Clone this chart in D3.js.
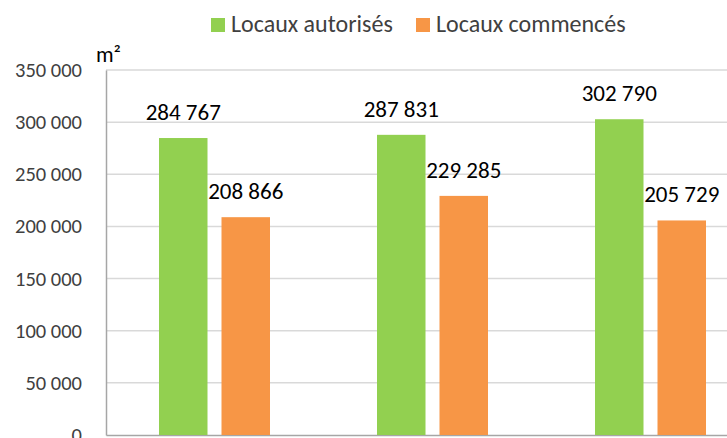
<!DOCTYPE html>
<html><head><meta charset="utf-8">
<script src="https://cdn.jsdelivr.net/npm/d3@7"></script>
<style>
html,body{margin:0;padding:0;background:#fff;overflow:hidden;}
svg{display:block;}
</style></head>
<body>
<svg id="chart" width="727" height="438"></svg>
<script>
const categories = ["Période 1", "Période 2", "Période 3"];
const seriesNames = ["Locaux autorisés", "Locaux commencés"];
const autorises = [284767, 287831, 302790];
const commences = [208866, 229285, 205729];
const yTicks = [0, 50000, 100000, 150000, 200000, 250000, 300000, 350000];
const colors = ["#92d050", "#f79646"];

(function () {
const font = "Carlito, Calibri, 'Liberation Sans Narrow', 'Open Sans', sans-serif";
const svg = d3.select("#chart");
const mLeft = 106, mBottom = 435, mTop = 70;

const y = d3.scaleLinear().domain([0, 350000]).range([mBottom, mTop]);
const x0 = d3.scaleBand().domain(categories).range([mLeft, mLeft + 3 * 218]).paddingInner(0).paddingOuter(0);
const x1 = d3.scaleBand().domain(seriesNames).range([0, 111]).paddingInner(14 / 62.5);
const fmt = v => d3.format(",")(v).replace(/,/g, " ");

// gridlines
svg.append("g").selectAll("line").data(yTicks.filter(t => t > 0)).join("line")
  .attr("x1", mLeft).attr("x2", 727)
  .attr("y1", d => y(d)).attr("y2", d => y(d))
  .attr("stroke", "#d9d9d9").attr("stroke-width", 1.5);

// y axis
const yAxis = d3.axisLeft(y).tickValues(yTicks).tickSize(0).tickPadding(24).tickFormat(fmt);
const gy = svg.append("g").attr("transform", `translate(${mLeft},0)`).call(yAxis);
gy.select(".domain").attr("stroke", "#a6a6a6").attr("stroke-width", 1.5);
gy.selectAll("text").attr("font-family", font).attr("font-size", 20.5).attr("fill", "#404040");

// x axis line
const gx = svg.append("g").attr("transform", `translate(0,${mBottom})`)
  .call(d3.axisBottom(x0).tickSize(0).tickFormat(""));
gx.select(".domain").attr("stroke", "#a6a6a6").attr("stroke-width", 1.5);

// bars
const groups = svg.append("g").selectAll("g").data(categories).join("g")
  .attr("transform", d => `translate(${x0(d) + x0.bandwidth() / 2 - 56},0)`);
const seriesVals = [autorises, commences];
groups.each(function(cat, i) {
  const g = d3.select(this);
  const data = seriesNames.map((s, k) => ({s, k, v: seriesVals[k][i]}));
  g.selectAll("rect").data(data).join("rect")
    .attr("x", d => x1(d.s)).attr("width", x1.bandwidth())
    .attr("y", d => y(d.v)).attr("height", d => mBottom - y(d.v))
    .attr("fill", d => colors[d.k]);
  g.selectAll("text").data(data).join("text")
    .attr("x", d => x1(d.s) + x1.bandwidth() / 2)
    .attr("y", d => y(d.v) - 18)
    .attr("text-anchor", "middle")
    .attr("font-family", font).attr("font-size", 23).attr("fill", "#000")
    .text(d => fmt(d.v));
});

// unit label
svg.append("text").attr("x", 96).attr("y", 62).attr("font-family", font)
  .attr("font-size", 22).attr("fill", "#000").text("m²");

// legend
const legendX = [211, 416];
const lg = svg.append("g").selectAll("g").data(seriesNames).join("g")
  .attr("transform", (d, i) => `translate(${legendX[i]},0)`);
lg.append("rect").attr("x", 0).attr("y", 18).attr("width", 14).attr("height", 14)
  .attr("fill", (d, i) => colors[i]);
lg.append("text").attr("x", 20).attr("y", 32).attr("font-family", font)
  .attr("font-size", 24).attr("fill", "#404040").text(d => d);
})();
</script>
</body></html>
